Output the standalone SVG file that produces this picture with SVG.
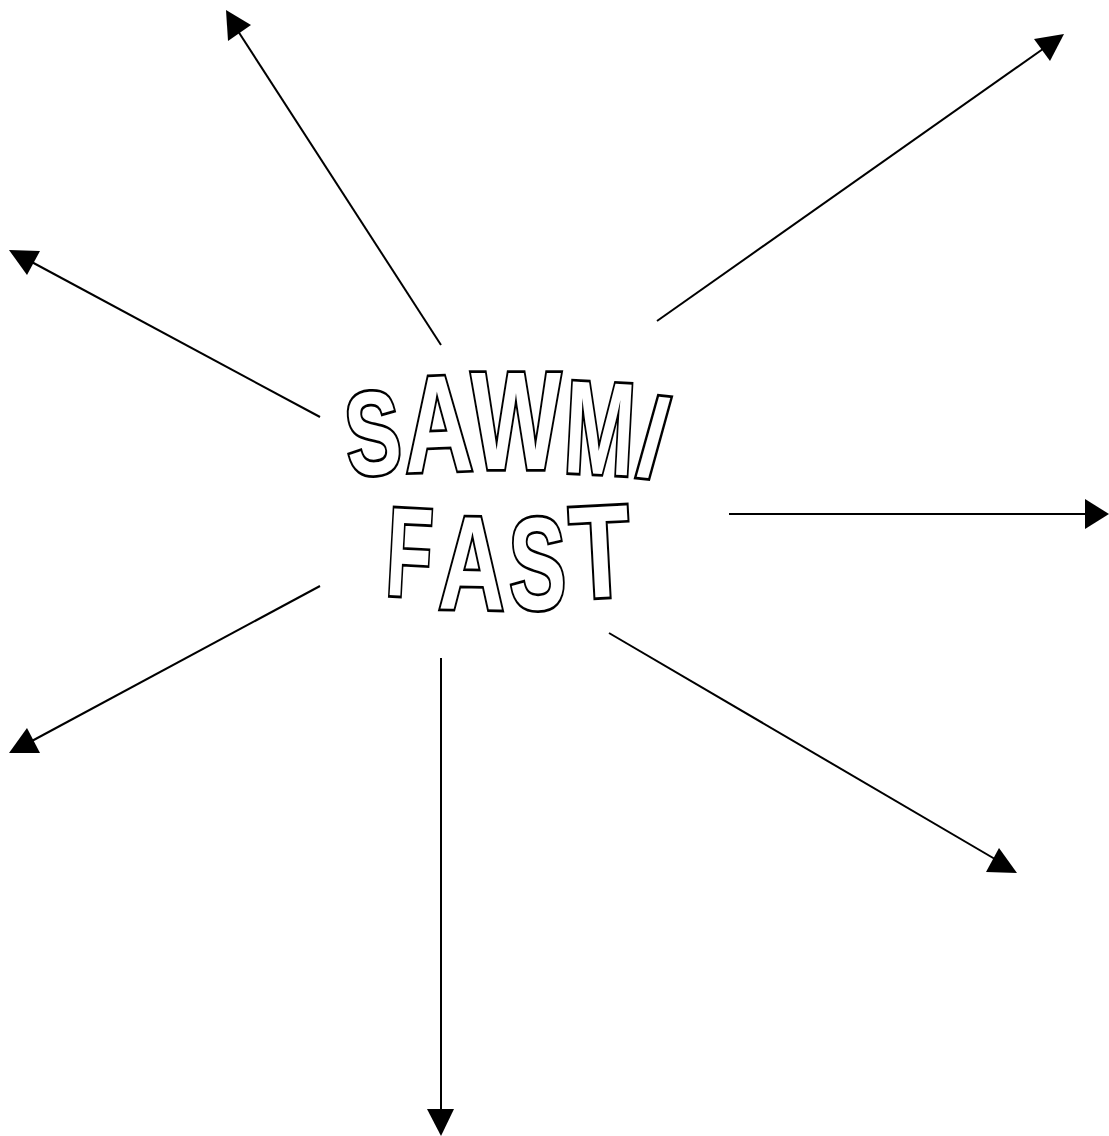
<svg xmlns="http://www.w3.org/2000/svg" width="1109" height="1136" viewBox="0 0 1109 1136">
<style>
.ln{stroke:#000;stroke-width:2;fill:none}
.hd{fill:#000}
.wa{font-family:"Liberation Sans",Arial,sans-serif;font-weight:bold;fill:#fff;stroke:#000;stroke-width:5.5;stroke-linejoin:miter;paint-order:stroke}
</style>
<rect width="1109" height="1136" fill="#fff"/>
<g id="connectors">
<line class="ln" x1="441" y1="345" x2="236" y2="28"/>
<polygon class="hd" points="226,10 251,25 228,41"/>
<line class="ln" x1="320" y1="417" x2="28" y2="260"/>
<polygon class="hd" points="9,250 40,251 27,275"/>
<line class="ln" x1="657" y1="321" x2="1050" y2="44"/>
<polygon class="hd" points="1064,34 1034,39 1050,61"/>
<line class="ln" x1="729" y1="514" x2="1088" y2="514"/>
<polygon class="hd" points="1109,514 1085,499 1085,529"/>
<line class="ln" x1="441" y1="658" x2="441" y2="1112"/>
<polygon class="hd" points="441,1136 427,1109 454,1109"/>
<line class="ln" x1="320" y1="586" x2="30" y2="742"/>
<polygon class="hd" points="27,728 9,753 40,753"/>
<line class="ln" x1="609" y1="633" x2="1000" y2="862"/>
<polygon class="hd" points="999,848 986,872 1017,873"/>
</g>
<g id="title" class="wa">
<text x="345" y="474" font-size="118" textLength="55" lengthAdjust="spacingAndGlyphs" transform="rotate(-5 373 430)">S</text>
<text x="404" y="471" font-size="137" textLength="68" lengthAdjust="spacingAndGlyphs" transform="rotate(-2 438 420)">A</text>
<text x="471" y="469" font-size="139" textLength="90" lengthAdjust="spacingAndGlyphs">W</text>
<text x="565" y="474" font-size="132" textLength="70" lengthAdjust="spacingAndGlyphs" transform="rotate(3 600 425)">M</text>
<text x="640" y="476" font-size="110" textLength="27" lengthAdjust="spacingAndGlyphs" transform="rotate(6 652 437)">/</text>
<text x="387" y="596" font-size="126" textLength="45" lengthAdjust="spacingAndGlyphs" transform="rotate(3 409 551)">F</text>
<text x="439" y="609" font-size="133" textLength="66" lengthAdjust="spacingAndGlyphs" transform="rotate(1 472 561)">A</text>
<text x="509" y="609" font-size="131" textLength="57" lengthAdjust="spacingAndGlyphs" transform="rotate(-1 537 561)">S</text>
<text x="570" y="597" font-size="131" textLength="60" lengthAdjust="spacingAndGlyphs" transform="rotate(-3 600 551)">T</text>
</g>
</svg>
